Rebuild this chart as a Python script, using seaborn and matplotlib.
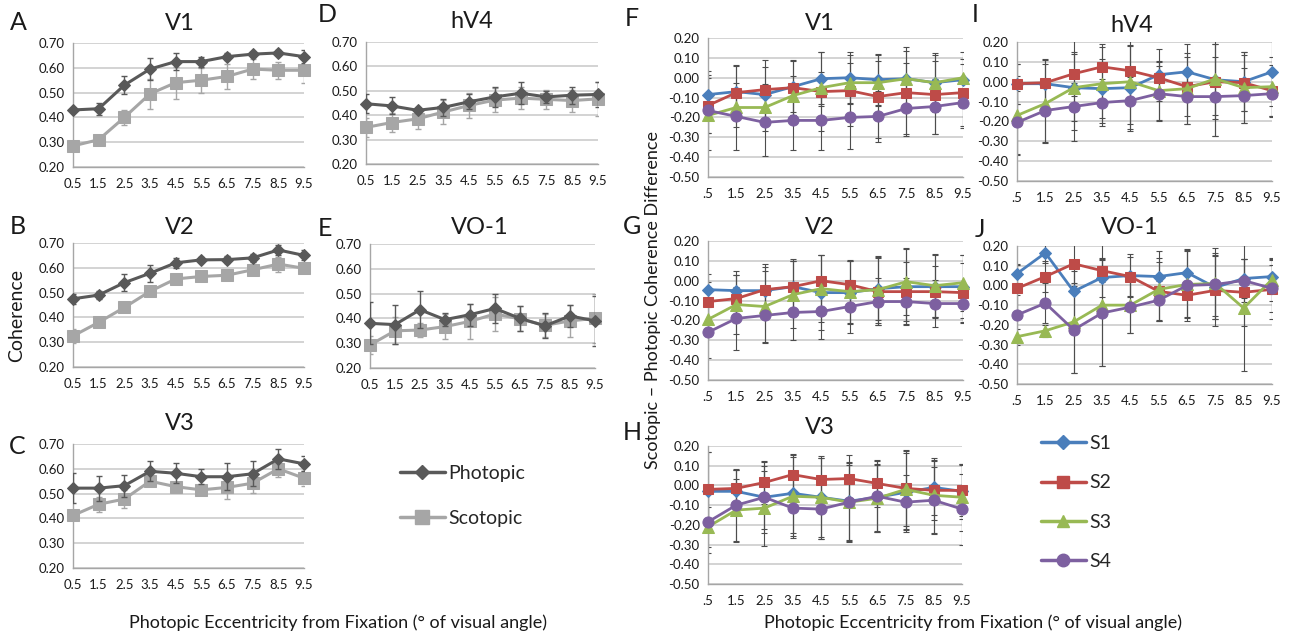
import matplotlib
matplotlib.use("Agg")
import matplotlib.pyplot as plt
import seaborn as sns
from matplotlib.lines import Line2D

# ---------------- data ----------------
ecc = [0.5, 1.5, 2.5, 3.5, 4.5, 5.5, 6.5, 7.5, 8.5, 9.5]
xlabels_left = ["0.5", "1.5", "2.5", "3.5", "4.5", "5.5", "6.5", "7.5", "8.5", "9.5"]
xlabels_right = [".5", "1.5", "2.5", "3.5", "4.5", "5.5", "6.5", "7.5", "8.5", "9.5"]

# Coherence (photopic / scotopic) with error bars
v1_phot = [0.43, 0.435, 0.53, 0.595, 0.625, 0.625, 0.645, 0.655, 0.66, 0.645]
v1_phot_err = [0.005, 0.025, 0.035, 0.045, 0.035, 0.02, 0.015, 0.01, 0.01, 0.025]
v1_scot = [0.285, 0.31, 0.40, 0.495, 0.54, 0.55, 0.565, 0.595, 0.59, 0.59]
v1_scot_err = [0.005, 0.015, 0.03, 0.06, 0.065, 0.05, 0.05, 0.04, 0.035, 0.05]

v2_phot = [0.475, 0.49, 0.54, 0.578, 0.62, 0.632, 0.633, 0.64, 0.672, 0.65]
v2_phot_err = [0.02, 0.015, 0.035, 0.035, 0.02, 0.01, 0.015, 0.015, 0.02, 0.02]
v2_scot = [0.325, 0.38, 0.44, 0.505, 0.555, 0.565, 0.57, 0.592, 0.615, 0.598]
v2_scot_err = [0.03, 0.02, 0.01, 0.02, 0.01, 0.015, 0.01, 0.02, 0.03, 0.015]

v3_phot = [0.522, 0.522, 0.532, 0.59, 0.582, 0.568, 0.568, 0.58, 0.64, 0.62]
v3_phot_err = [0.06, 0.05, 0.045, 0.04, 0.04, 0.03, 0.055, 0.05, 0.04, 0.03]
v3_scot = [0.412, 0.457, 0.478, 0.55, 0.528, 0.515, 0.525, 0.542, 0.60, 0.562]
v3_scot_err = [0.015, 0.03, 0.035, 0.02, 0.02, 0.01, 0.045, 0.04, 0.035, 0.03]

hv4_phot = [0.447, 0.438, 0.42, 0.432, 0.455, 0.475, 0.49, 0.475, 0.482, 0.485]
hv4_phot_err = [0.04, 0.035, 0.01, 0.035, 0.03, 0.04, 0.045, 0.025, 0.035, 0.05]
hv4_scot = [0.35, 0.37, 0.385, 0.413, 0.44, 0.462, 0.47, 0.465, 0.46, 0.467]
hv4_scot_err = [0.04, 0.04, 0.04, 0.05, 0.05, 0.05, 0.045, 0.04, 0.045, 0.07]

vo1_phot = [0.38, 0.375, 0.435, 0.395, 0.415, 0.44, 0.40, 0.37, 0.41, 0.39]
vo1_phot_err = [0.085, 0.08, 0.075, 0.025, 0.045, 0.06, 0.05, 0.05, 0.045, 0.10]
vo1_scot = [0.293, 0.35, 0.353, 0.367, 0.388, 0.418, 0.398, 0.372, 0.39, 0.40]
vo1_scot_err = [0.035, 0.055, 0.03, 0.05, 0.07, 0.07, 0.05, 0.045, 0.065, 0.10]

# Scotopic - photopic difference per subject
subjects = ["S1", "S2", "S3", "S4"]

f_v1 = [
    [-0.085, -0.07, -0.085, -0.045, -0.005, 0.0, -0.01, -0.005, -0.025, -0.01],
    [-0.14, -0.075, -0.06, -0.05, -0.07, -0.065, -0.095, -0.075, -0.085, -0.075],
    [-0.19, -0.15, -0.15, -0.09, -0.05, -0.025, -0.025, -0.005, -0.025, 0.0],
    [-0.165, -0.195, -0.225, -0.215, -0.215, -0.20, -0.195, -0.155, -0.145, -0.125],
]
f_v1_err = [
    [0.10, 0.13, 0.14, 0.13, 0.135, 0.13, 0.13, 0.16, 0.15, 0.14],
    [0.14, 0.14, 0.15, 0.14, 0.20, 0.18, 0.21, 0.21, 0.20, 0.17],
    [0.09, 0.10, 0.12, 0.10, 0.08, 0.10, 0.11, 0.08, 0.11, 0.07],
    [0.20, 0.17, 0.17, 0.15, 0.15, 0.16, 0.13, 0.14, 0.14, 0.13],
]

g_v2 = [
    [-0.045, -0.05, -0.05, -0.03, -0.06, -0.06, -0.04, -0.03, -0.03, -0.03],
    [-0.105, -0.09, -0.045, -0.03, 0.0, -0.02, -0.055, -0.055, -0.055, -0.06],
    [-0.195, -0.12, -0.13, -0.07, -0.04, -0.055, -0.045, -0.005, -0.025, -0.01],
    [-0.26, -0.19, -0.175, -0.16, -0.155, -0.13, -0.105, -0.105, -0.115, -0.115],
]
g_v2_err = [
    [0.08, 0.10, 0.12, 0.13, 0.19, 0.16, 0.16, 0.19, 0.16, 0.16],
    [0.10, 0.12, 0.13, 0.14, 0.13, 0.12, 0.17, 0.15, 0.13, 0.15],
    [0.07, 0.15, 0.18, 0.17, 0.17, 0.16, 0.17, 0.17, 0.16, 0.14],
    [0.13, 0.16, 0.14, 0.14, 0.14, 0.135, 0.12, 0.12, 0.12, 0.10],
]

h_v3 = [
    [-0.03, -0.03, -0.06, -0.04, -0.06, -0.08, -0.06, -0.035, -0.01, -0.03],
    [-0.02, -0.015, 0.015, 0.055, 0.03, 0.035, 0.01, -0.015, -0.025, -0.025],
    [-0.21, -0.125, -0.115, -0.055, -0.06, -0.085, -0.065, -0.02, -0.05, -0.06],
    [-0.185, -0.10, -0.06, -0.115, -0.12, -0.085, -0.055, -0.085, -0.075, -0.12],
]
h_v3_err = [
    [0.20, 0.11, 0.18, 0.20, 0.20, 0.20, 0.17, 0.20, 0.14, 0.14],
    [0.19, 0.10, 0.11, 0.10, 0.11, 0.12, 0.12, 0.19, 0.15, 0.13],
    [0.10, 0.16, 0.19, 0.20, 0.21, 0.20, 0.17, 0.20, 0.19, 0.17],
    [0.16, 0.18, 0.16, 0.15, 0.15, 0.19, 0.18, 0.14, 0.17, 0.18],
]

i_hv4 = [
    [-0.01, -0.01, -0.03, -0.035, -0.03, 0.035, 0.05, 0.01, 0.0, 0.05],
    [-0.01, -0.005, 0.04, 0.075, 0.055, 0.02, -0.025, 0.0, -0.005, -0.045],
    [-0.17, -0.11, -0.03, -0.01, 0.0, -0.045, -0.035, 0.015, -0.03, -0.025],
    [-0.205, -0.145, -0.125, -0.105, -0.095, -0.06, -0.075, -0.075, -0.07, -0.06],
]
i_hv4_err = [
    [0.10, 0.12, 0.17, 0.15, 0.21, 0.13, 0.14, 0.18, 0.15, 0.17],
    [0.10, 0.12, 0.11, 0.10, 0.13, 0.08, 0.15, 0.19, 0.14, 0.13],
    [0.20, 0.20, 0.27, 0.20, 0.25, 0.15, 0.18, 0.29, 0.18, 0.15],
    [0.16, 0.16, 0.12, 0.12, 0.12, 0.14, 0.14, 0.20, 0.14, 0.12],
]

j_vo1 = [
    [0.06, 0.165, -0.03, 0.04, 0.05, 0.045, 0.065, -0.01, 0.035, 0.045],
    [-0.015, 0.045, 0.11, 0.075, 0.045, -0.03, -0.05, -0.025, -0.035, -0.02],
    [-0.26, -0.23, -0.185, -0.10, -0.10, -0.02, 0.005, 0.01, -0.115, 0.03],
    [-0.15, -0.09, -0.225, -0.14, -0.11, -0.075, 0.0, 0.005, 0.025, -0.015],
]
j_vo1_err = [
    [0.05, 0.05, 0.16, 0.10, 0.11, 0.13, 0.12, 0.16, 0.10, 0.09],
    [0.12, 0.08, 0.10, 0.06, 0.10, 0.15, 0.11, 0.18, 0.17, 0.15],
    [0.04, 0.03, 0.26, 0.31, 0.14, 0.16, 0.17, 0.18, 0.32, 0.11],
    [0.10, 0.10, 0.22, 0.27, 0.13, 0.10, 0.18, 0.16, 0.11, 0.12],
]

# ---------------- style ----------------
sns.set_theme(style="white")
FONT = ["Lato", "DejaVu Sans"]
plt.rcParams["font.family"] = FONT
TXT = "#1a1a1a"
GRID = "#c8c8c8"
SPINE = "#a6a6a6"
PHOT_C = "#595959"
SCOT_C = "#a6a6a6"
S_COLORS = ["#4a7ebb", "#be4b48", "#98b954", "#7d60a0"]
S_MARKERS = ["D", "s", "^", "o"]
S_MSIZE = [6.5, 7.5, 8, 8]

W, H = 1293, 639
fig = plt.figure(figsize=(W / 100, H / 100), dpi=100)
fig.patch.set_facecolor("white")


def add_ax(l, r, t, b):
    return fig.add_axes([l / W, 1 - b / H, (r - l) / W, (b - t) / H])


def style_ax(ax, ylim, yticks, yfmt, xlabels):
    ax.set_xlim(0.5, 9.5)
    ax.set_ylim(*ylim)
    ax.set_yticks(yticks)
    ax.set_yticklabels([yfmt(v) for v in yticks])
    ax.set_xticks(ecc)
    ax.set_xticklabels(xlabels)
    ax.set_xlabel("")
    ax.set_ylabel("")
    ax.grid(axis="y", color=GRID, linewidth=1.1)
    ax.grid(axis="x", visible=False)
    ax.set_axisbelow(True)
    for s in ["top", "right"]:
        ax.spines[s].set_visible(False)
    for s in ["left", "bottom"]:
        ax.spines[s].set_color(SPINE)
        ax.spines[s].set_linewidth(1.0)
    ax.tick_params(axis="both", which="major", labelsize=9.5, colors=TXT,
                   length=3, width=0.8, color=SPINE, pad=3)
    ax.tick_params(axis="x", pad=5)
    ax.set_facecolor("white")


def draw_coherence(ax, phot, phot_err, scot, scot_err):
    ax.errorbar(ecc, scot, yerr=scot_err, fmt="none", ecolor=SCOT_C,
                elinewidth=1.0, capsize=2.5, capthick=1.0, zorder=2)
    sns.lineplot(x=ecc, y=scot, ax=ax, color=SCOT_C, linewidth=2.2, marker="s",
                 markersize=8.5, markeredgecolor=SCOT_C, sort=False, legend=False,
                 zorder=3, clip_on=False)
    ax.errorbar(ecc, phot, yerr=phot_err, fmt="none", ecolor=PHOT_C,
                elinewidth=1.0, capsize=2.5, capthick=1.0, zorder=4)
    sns.lineplot(x=ecc, y=phot, ax=ax, color=PHOT_C, linewidth=2.2, marker="D",
                 markersize=6.5, markeredgecolor=PHOT_C, sort=False, legend=False,
                 zorder=5, clip_on=False)
    style_ax(ax, (0.2, 0.7), [0.2, 0.3, 0.4, 0.5, 0.6, 0.7],
             lambda v: f"{v:.2f}", xlabels_left)


def draw_diff(ax, vals, errs):
    for k in range(4):
        ax.errorbar(ecc, vals[k], yerr=errs[k], fmt="none", ecolor="#4d4d4d",
                    elinewidth=0.8, capsize=2, capthick=0.8, zorder=2)
    for k in range(4):
        sns.lineplot(x=ecc, y=vals[k], ax=ax, color=S_COLORS[k], linewidth=2.0,
                     marker=S_MARKERS[k], markersize=S_MSIZE[k],
                     markeredgecolor=S_COLORS[k], sort=False, legend=False,
                     zorder=3 + k, clip_on=False)
    style_ax(ax, (-0.5, 0.2), [-0.5, -0.4, -0.3, -0.2, -0.1, 0.0, 0.1, 0.2],
             lambda v: f"{v:.2f}", xlabels_right)


# left block
axA = add_ax(73, 304, 43, 167)
axB = add_ax(73, 304, 243, 367)
axC = add_ax(73, 304, 444, 568)
axD = add_ax(366, 598, 42, 164)
axE = add_ax(370, 595, 244, 368)
draw_coherence(axA, v1_phot, v1_phot_err, v1_scot, v1_scot_err)
draw_coherence(axB, v2_phot, v2_phot_err, v2_scot, v2_scot_err)
draw_coherence(axC, v3_phot, v3_phot_err, v3_scot, v3_scot_err)
draw_coherence(axD, hv4_phot, hv4_phot_err, hv4_scot, hv4_scot_err)
draw_coherence(axE, vo1_phot, vo1_phot_err, vo1_scot, vo1_scot_err)

# right block
axF = add_ax(708, 963, 38, 177)
axG = add_ax(708, 963, 241, 380)
axH = add_ax(708, 962, 446, 584)
axI = add_ax(1017, 1272, 42, 181)
axJ = add_ax(1017, 1272, 246, 384)
draw_diff(axF, f_v1, f_v1_err)
draw_diff(axG, g_v2, g_v2_err)
draw_diff(axH, h_v3, h_v3_err)
draw_diff(axI, i_hv4, i_hv4_err)
draw_diff(axJ, j_vo1, j_vo1_err)


def ftext(x, y, s, size, **kw):
    fig.text(x / W, 1 - y / H, s, fontsize=size, color=TXT, ha="center",
             va="center", family=FONT, **kw)


# titles
for (x, y, s) in [(180, 23, "V1"), (472, 22, "hV4"), (180, 227, "V2"),
                  (480, 228, "VO-1"), (180, 424, "V3"), (820, 23, "V1"),
                  (1132, 25, "hV4"), (820, 227, "V2"), (1130, 227, "VO-1"),
                  (820, 427, "V3")]:
    ftext(x, y, s, 17)

# panel letters
for (x, y, s) in [(18, 23, "A"), (327, 15, "D"), (18, 227, "B"), (325, 228, "E"),
                  (17, 446, "C"), (632, 18, "F"), (975, 14, "I"), (632, 226, "G"),
                  (980, 229, "J"), (632, 432, "H")]:
    ftext(x, y, s, 18)

# axis labels
ftext(17, 315, "Coherence", 14, rotation=90)
ftext(653, 300, "Scotopic \u2013 Photopic Coherence Difference", 13, rotation=90)
ftext(338, 623, "Photopic Eccentricity from Fixation (\u00b0 of visual angle)", 13)
ftext(973, 623, "Photopic Eccentricity from Fixation (\u00b0 of visual angle)", 13)

# legends
h_left = [Line2D([], [], color=PHOT_C, lw=2.5, marker="D", ms=7, mec=PHOT_C),
          Line2D([], [], color=SCOT_C, lw=2.5, marker="s", ms=10, mec=SCOT_C)]
fig.legend(h_left, ["Photopic", "Scotopic"], loc="upper left",
           bbox_to_anchor=(400 / W, 1 - 465 / H), frameon=False,
           handlelength=2.3, handletextpad=0.2, labelspacing=1.45,
           borderpad=0, borderaxespad=0, prop={"family": FONT, "size": 14})

h_right = [Line2D([], [], color=S_COLORS[k], lw=2.5, marker=S_MARKERS[k],
                  ms=S_MSIZE[k] + 1, mec=S_COLORS[k]) for k in range(4)]
fig.legend(h_right, subjects, loc="upper left",
           bbox_to_anchor=(1041 / W, 1 - 435 / H), frameon=False,
           handlelength=2.3, handletextpad=0.2, labelspacing=1.15,
           borderpad=0, borderaxespad=0, prop={"family": FONT, "size": 14})

fig.savefig("out.png", dpi=100, facecolor="white")
